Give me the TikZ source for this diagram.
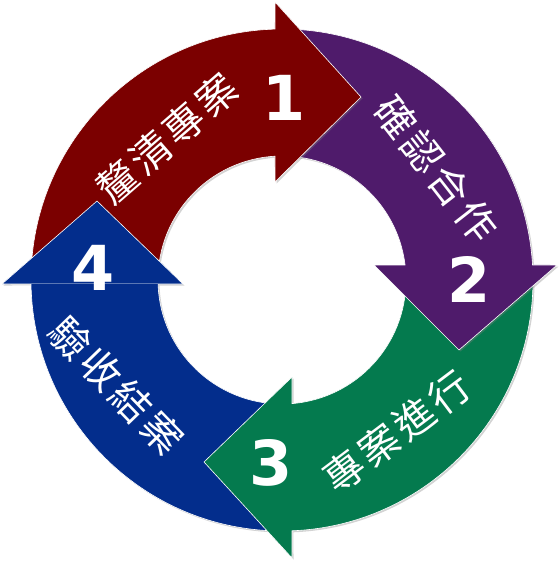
\documentclass[tikz,border=0pt]{standalone}
\usepackage{fontspec}
\newfontfamily\cjkfont[LetterSpace=10]{Noto Sans CJK TC}
\newfontfamily\numfont{DejaVu Sans}
\usepackage{tikz}
\usetikzlibrary{shadows}

\definecolor{stepred}{HTML}{7B0000}
\definecolor{steppurple}{HTML}{4F1B6B}
\definecolor{stepgreen}{HTML}{047A4E}
\definecolor{stepblue}{HTML}{032D8C}

\begin{document}
\begin{tikzpicture}[
  x=1pt, y=-1pt,
  cycarrow/.style={draw=white, line width=0.6pt,
    drop shadow={shadow xshift=1.5pt, shadow yshift=-1.5pt, opacity=0.35}},
  redarrow/.style={cycarrow, fill=stepred},
  purplearrow/.style={cycarrow, fill=steppurple},
  greenarrow/.style={cycarrow, fill=stepgreen},
  bluearrow/.style={cycarrow, fill=stepblue},
  steplbl/.style={text=white, inner sep=0pt,
    font=\cjkfont\fontsize{40}{40}\selectfont},
  stepnum/.style={text=white, inner sep=0pt,
    font=\numfont\bfseries\fontsize{62}{62}\selectfont},
]
\useasboundingbox (0,0) rectangle (558,562);

\coordinate (c) at (282,280);

% Arrows, drawn backwards so each head lies on the next tail
\begin{scope}[shift={(c)}]
\path[bluearrow] (90:251) arc[start angle=90, end angle=179.09, radius=251]
  -- (-280,4) -- (-185,-79) -- (-99,4)
  -- (178.15:124) arc[start angle=178.15, end angle=90, radius=124] -- cycle;
\path[greenarrow] (0:251) arc[start angle=0, end angle=87.72, radius=251]
  -- (10,278) -- (-78,182) -- (10,97)
  -- (85.37:124) arc[start angle=85.37, end angle=0, radius=124] -- cycle;
\path[purplearrow] (270:251) arc[start angle=270, end angle=356.57, radius=251]
  -- (275,-15) -- (177,70) -- (92,-15)
  -- (353.05:124) arc[start angle=353.05, end angle=270, radius=124] -- cycle;
\path[redarrow] (180:251) arc[start angle=180, end angle=268.4, radius=251]
  -- (-7,-278) -- (79,-183) -- (-7,-98)
  -- (266.76:124) arc[start angle=266.76, end angle=180, radius=124] -- cycle;

% blue head again, over the red tail
\begin{scope}
\clip (-282,-280) rectangle (0,3.7);
\path[bluearrow] (-280,4) -- (-185,-79) -- (-99,4) -- cycle;
\end{scope}
\end{scope}

% Labels
\node[steplbl, rotate=41] at (167,138.5) (lbl1) {釐清專案};
\node[steplbl, rotate=-52] at (436,169) (lbl2) {確認合作};
\node[steplbl, rotate=37] at (397,432) (lbl3) {專案進行};
\node[steplbl, rotate=-46] at (116.5,385.5) (lbl4) {驗收結案};

\node[stepnum] at (284.5,97.5) (num1) {1};
\node[stepnum] at (469,279) (num2) {2};
\node[stepnum] at (271,462.5) (num3) {3};
\node[stepnum] at (93.5,268) (num4) {4};

\end{tikzpicture}
\end{document}
